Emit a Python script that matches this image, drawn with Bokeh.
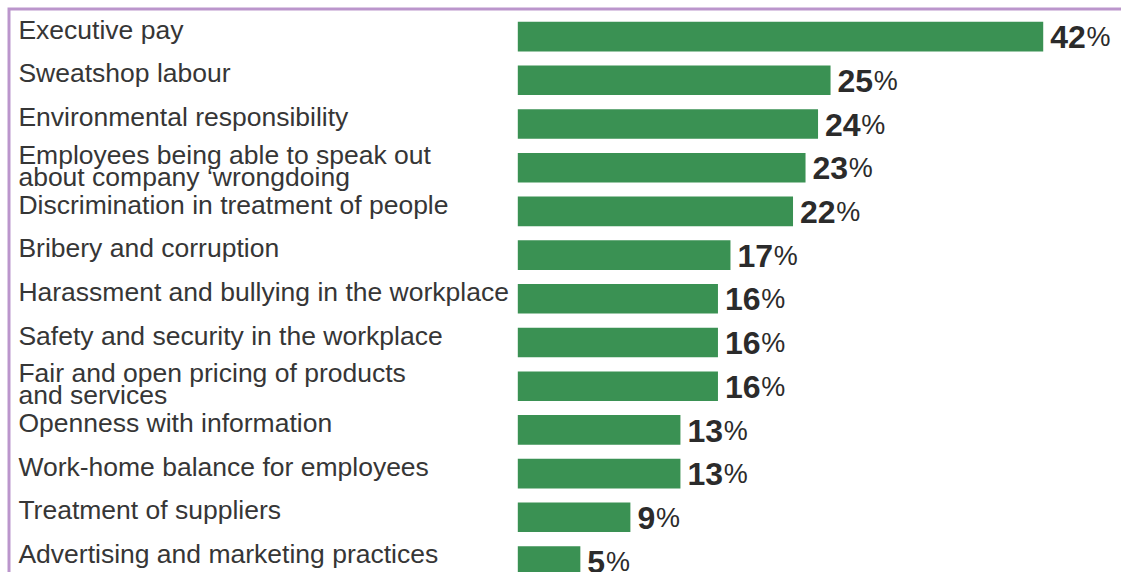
from bokeh.plotting import figure
from bokeh.models import ColumnDataSource, Range1d
from bokeh.core.properties import value
from bokeh.embed import file_html
from bokeh.resources import INLINE

# ---- data ----
issues = [
    "Executive pay",
    "Sweatshop labour",
    "Environmental responsibility",
    "Employees being able to speak out\nabout company \u2018wrongdoing",
    "Discrimination in treatment of people",
    "Bribery and corruption",
    "Harassment and bullying in the workplace",
    "Safety and security in the workplace",
    "Fair and open pricing of products\nand services",
    "Openness with information",
    "Work-home balance for employees",
    "Treatment of suppliers",
    "Advertising and marketing practices",
]
percent = [42, 25, 24, 23, 22, 17, 16, 16, 16, 13, 13, 9, 5]

# ---- layout constants ----
W, H = 1121, 572
PX_PER_UNIT = 12.51       # horizontal pixels per percentage point
ZERO_X = 517.3            # frame pixel of 0%
ROW = 43.7                # row pitch in pixels
FIRST_ROW = 36.1          # frame pixel of first row centre
LAB_FS = 26.5
VAL_FS = 32
BASE_FIX = 0.37           # renderer places alphabetic baseline ~0.37em lower

x0 = -ZERO_X / PX_PER_UNIT
x1 = x0 + W / PX_PER_UNIT
ytop = -FIRST_ROW / ROW
ybot = (H - FIRST_ROW) / ROW

p = figure(width=W, height=H, output_backend="svg", toolbar_location=None,
           x_range=Range1d(x0, x1), y_range=Range1d(ybot, ytop),
           min_border=0, min_border_left=0, min_border_right=0,
           min_border_top=0, min_border_bottom=0)
p.xaxis.visible = False
p.yaxis.visible = False
p.grid.visible = False
p.outline_line_color = None
p.background_fill_color = "white"
p.border_fill_color = "white"

idx = list(range(len(issues)))
bars = ColumnDataSource(dict(y=idx, right=percent, left=[0] * len(percent)))
p.hbar(y="y", left="left", right="right", height=29.6 / ROW, source=bars,
       fill_color="#3a9153", line_color=None)

# category labels (split multi-line labels into two text rows)
lfix = BASE_FIX * LAB_FS
l1_y, l1_t, l2_y, l2_t = [], [], [], []
for i, lab in enumerate(issues):
    parts = lab.split("\n")
    if len(parts) == 1:
        l1_y.append(i + (3 - lfix) / ROW)
        l1_t.append(parts[0])
    else:
        l1_y.append(i + (-3 - lfix) / ROW)
        l1_t.append(parts[0])
        l2_y.append(i + (19 - lfix) / ROW)
        l2_t.append(parts[1])
lx = x0 + 17.9 / PX_PER_UNIT
for ys, ts in ((l1_y, l1_t), (l2_y, l2_t)):
    p.text(x=[lx] * len(ts), y=ys, text=ts, text_font=value("Liberation Sans"),
           text_font_size=f"{LAB_FS}px", text_color="#363636",
           text_baseline="alphabetic", text_align="left")

# value labels: bold number + regular percent sign
nums = [str(v) for v in percent]
vy = [i + (12.5 - BASE_FIX * VAL_FS) / ROW for i in idx]
pct_off = [7 + 17.6 * len(s) + 1 for s in nums]
vals = ColumnDataSource(dict(x=percent, y=vy, t=nums, pct=["%"] * len(nums), off=pct_off))
p.text(x="x", y="y", text="t", source=vals, x_offset=7,
       text_font=value("Liberation Sans"), text_font_style="bold",
       text_font_size=f"{VAL_FS}px", text_color="#2b2b2b", text_baseline="alphabetic",
       text_align="left")
p.text(x="x", y="y", text="pct", source=vals, x_offset="off",
       text_font=value("Liberation Sans"), text_font_size="27px",
       text_color="#2b2b2b", text_baseline="alphabetic", text_align="left")

# lavender frame lines (top and left), meeting at the top-left corner
fx = x0 + 8.5 / PX_PER_UNIT
fy = ytop + 8.5 / ROW
p.line(x=[fx, fx, x1], y=[ybot, fy, fy], line_color="#bb96cc", line_width=3,
       line_join="miter")

open("out.html", "w").write(file_html(p, INLINE))
